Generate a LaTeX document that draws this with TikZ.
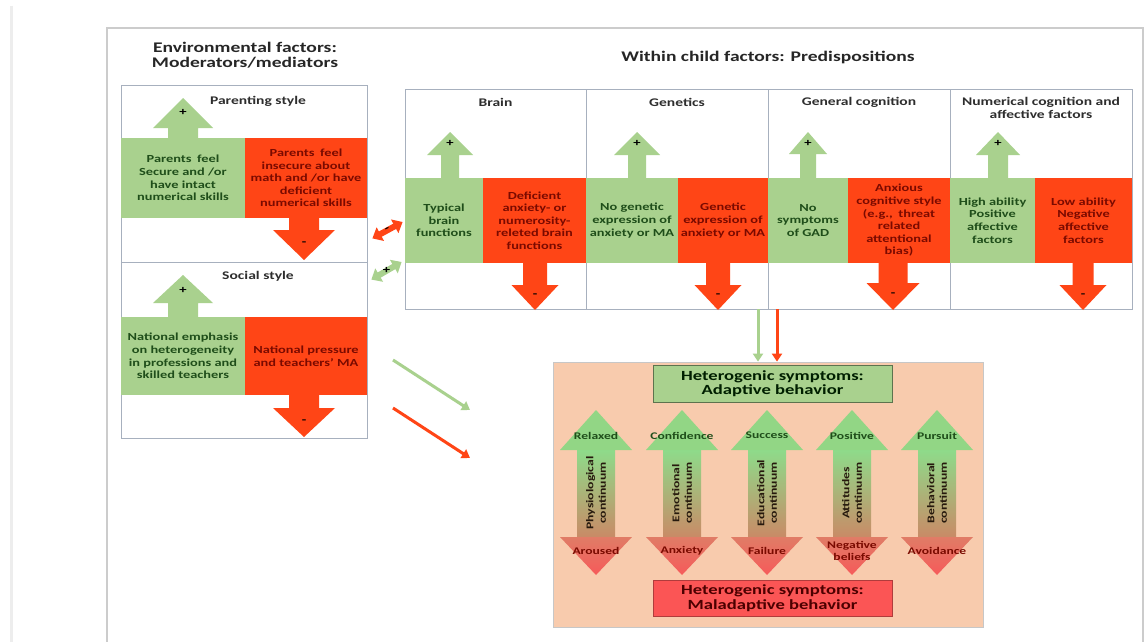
\documentclass[tikz,border=0pt]{standalone}
\usepackage{fontspec}
\setmainfont{Carlito}[FakeStretch=1.33]
\usetikzlibrary{arrows.meta,calc}

\definecolor{gfill}{HTML}{A9D18E}
\definecolor{rfill}{HTML}{FF4516}
\definecolor{gtext}{HTML}{1F4E1A}
\definecolor{rtext}{HTML}{7A0A00}
\definecolor{panelline}{HTML}{A7B0BE}
\definecolor{peach}{HTML}{F8CBAD}
\definecolor{maladapt}{HTML}{FB5555}
\definecolor{headup}{HTML}{92D685}
\definecolor{shafttop}{HTML}{8EDB8A}
\definecolor{shaftmid}{HTML}{A6BE78}
\definecolor{shaftbot}{HTML}{C98A66}
\definecolor{headdowntop}{HTML}{E07C66}
\definecolor{headdownbot}{HTML}{F65A5A}

% block arrow pointing up: style, cx, tip, head base, bottom, head half width, shaft half width
\newcommand\UpBlock[7]{\fill[#1] ({#2-#7},#5) -- ({#2-#7},#4) -- ({#2-#6},#4) -- (#2,#3)
  -- ({#2+#6},#4) -- ({#2+#7},#4) -- ({#2+#7},#5) -- cycle;}
% block arrow pointing down: style, cx, top, head base, tip, head half width, shaft half width
\newcommand\DownBlock[7]{\fill[#1] ({#2-#7},#3) -- ({#2-#7},#4) -- ({#2-#6},#4) -- (#2,#5)
  -- ({#2+#6},#4) -- ({#2+#7},#4) -- ({#2+#7},#3) -- cycle;}

% two-headed continuum arrow: cx, name, upper label, lower label, axis label
\newcommand\Continuum[5]{%
  \shade[top color=shafttop, middle color=shaftmid, bottom color=shaftbot]
    ({#1-19},450) rectangle ({#1+19},537.5);
  \fill[headup] ({#1-36},450) -- (#1,410) -- ({#1+36},450) -- cycle;
  \shade[top color=headdowntop, bottom color=headdownbot]
    ({#1-36},537) -- (#1,575) -- ({#1+36},537) -- cycle;
  \node[lbl, text=gtext] (#2up) at (#1,435.5) {#3};
  \node[lbl, text=rtext] (#2down) at (#1,551) {#4};
  \node[rot] (#2axis) at (#1,493) {#5};
}

\begin{document}
\begin{tikzpicture}[x=1pt,y=-1pt,
  txt/.style={font=\fontsize{10.8}{12.6}\selectfont\bfseries, align=center, inner sep=0pt},
  gbox/.style={txt, fill=gfill, text=gtext},
  rbox/.style={txt, fill=rfill, text=rtext},
  panel/.style={draw=panelline, line width=0.8pt, inner sep=0pt},
  hdr/.style={font=\fontsize{11.7}{13.6}\selectfont\bfseries, text=black!82, align=center, inner sep=0pt},
  ttl/.style={font=\fontsize{14.7}{14.6}\selectfont\bfseries, text=black!85, align=center, inner sep=0pt},
  sign/.style={font=\fontsize{11}{11}\selectfont\bfseries, text=black, inner sep=0pt},
  lbl/.style={font=\fontsize{10.2}{12}\selectfont\bfseries, align=center, inner sep=0pt},
  rot/.style={font=\fontsize{10.3}{12.4}\selectfont\bfseries, align=center, inner sep=0pt,
    rotate=90, text=black!80!brown},
  gconn/.style={draw=gfill, line width=3pt, -{Triangle[width=10pt,length=8pt]}},
  rconn/.style={draw=rfill, line width=3pt, -{Triangle[width=10pt,length=8pt]}},
  dblconn/.style={line width=6pt, {Triangle[width=15pt,length=9pt]}-{Triangle[width=15pt,length=9pt]}},
]
\useasboundingbox (0,0) rectangle (1148,642);
\fill[white] (0,0) rectangle (1148,642);

% page edges
\draw[line width=3pt, black!7] (11,6) -- (11,642);
\draw[line width=1.6pt, black!20] (107,642) -- (107,28) -- (1143,28) -- (1143,642);

% ---------------- environmental factors ----------------
\node[ttl] (envtitle) at (245,55) {Environmental factors:\\Moderators/mediators};

\node[panel, minimum width=246pt, minimum height=177pt] (parenting) at (244,173.5) {};
\node[panel, minimum width=246pt, minimum height=176pt] (social) at (244,350) {};

% parenting style
\node[hdr] (parhdr) at (258,101) {Parenting style};
\UpBlock{gfill}{183}{98}{128}{139}{30}{15}
\node[gbox, minimum width=124pt, minimum height=80pt] (pargreen) at (183,178)
  {Parents\enspace feel\\Secure and /or\\have intact\\numerical skills};
\node[rbox, minimum width=122pt, minimum height=80pt] (parred) at (306,178)
  {Parents\enspace feel\\insecure about\\math and /or have\\deficient\\numerical skills};
\DownBlock{rfill}{304}{217}{230}{260}{31}{15}
\node[sign] (parplus) at (183,112) {+};
\node[sign] (parminus) at (304,244) {-};

% social style
\node[hdr] (sochdr) at (258,276) {Social style};
\UpBlock{gfill}{183}{275}{303}{318}{30}{15}
\node[gbox, minimum width=124pt, minimum height=78pt] (socgreen) at (183,356)
  {National emphasis\\on heterogeneity\\in professions and\\skilled teachers};
\node[rbox, minimum width=122pt, minimum height=78pt] (socred) at (306,356)
  {National pressure\\and teachers' MA};
\DownBlock{rfill}{304}{394}{408}{437}{31}{15}
\node[sign] (socplus) at (183,290) {+};
\node[sign] (socminus) at (304,422) {-};

% ---------------- within child factors ----------------
\node[ttl] (withintitle) at (768,57) {Within child factors: Predispositions};
\node[panel, minimum width=727pt, minimum height=220pt] (within) at (768.5,199) {};
\draw[panelline, line width=0.8pt] (586,89) -- (586,309) (768,89) -- (768,309) (950,89) -- (950,309);

\node[hdr] (brainhdr) at (495.5,102) {Brain};
\node[hdr] (genehdr) at (677,102) {Genetics};
\node[hdr] (coghdr) at (859,102) {General cognition};
\node[hdr] (numhdr) at (1041,108) {Numerical cognition and\\affective factors};

% brain
\UpBlock{gfill}{450}{132}{155}{179}{23}{9}
\node[gbox, minimum width=78pt, minimum height=85pt] (braingreen) at (444,220.5)
  {Typical\\brain\\functions};
\node[rbox, minimum width=103pt, minimum height=85pt] (brainred) at (534.5,220.5)
  {Deficient\\anxiety- or\\numerosity-\\releted brain\\functions};
\DownBlock{rfill}{535}{262}{285}{310}{23.5}{12}
\node[sign] (brainplus) at (450,143) {+};
\node[sign] (brainminus) at (535,296) {-};

% genetics
\UpBlock{gfill}{637}{132}{155}{179}{23}{9}
\node[gbox, minimum width=92pt, minimum height=85pt] (genegreen) at (632,220.5)
  {No genetic\\expression of\\anxiety or MA};
\node[rbox, minimum width=90pt, minimum height=85pt] (genered) at (723,220.5)
  {Genetic\\expression of\\anxiety or MA};
\DownBlock{rfill}{718}{262}{285}{310}{23.5}{12}
\node[sign] (geneplus) at (637,143) {+};
\node[sign] (geneminus) at (718,296) {-};

% general cognition
\UpBlock{gfill}{808}{132}{154}{179}{19}{8}
\node[gbox, minimum width=80pt, minimum height=85pt] (coggreen) at (808,220.5)
  {No\\symptoms\\of GAD};
\node[rbox, minimum width=102pt, minimum height=85pt] (cogred) at (899,220.5)
  {Anxious\\cognitive style\\(e.g.,\enspace threat\\related\\attentional\\bias)};
\DownBlock{rfill}{893}{262}{283}{310}{26.5}{14.5}
\node[sign] (cogplus) at (808,143) {+};
\node[sign] (cogminus) at (893,295) {-};

% numerical cognition and affective factors
\UpBlock{gfill}{998}{132}{155}{179}{22}{10}
\node[gbox, minimum width=85pt, minimum height=85pt] (numgreen) at (992.5,220.5)
  {High ability\\Positive\\affective\\factors};
\node[rbox, minimum width=97pt, minimum height=85pt] (numred) at (1083.5,220.5)
  {Low ability\\Negative\\affective\\factors};
\DownBlock{rfill}{1083}{262}{285}{310}{23.5}{10.5}
\node[sign] (numplus) at (998,143) {+};
\node[sign] (numminus) at (1083,296) {-};

% links between the environmental and within-child panels
\draw[dblconn, draw=rfill, fill=rfill] ($(parenting.south east)+(5,-24)$) -- ($(within.west)+(-2,23)$)
  node[sign, midway, rotate=27] (linkminus) {-};
\draw[dblconn, draw=gfill, fill=gfill] ($(social.north east)+(4,18)$) -- ($(within.west)+(-3,63)$)
  node[sign, midway] (linkplus) {+};

% ---------------- heterogenic symptoms ----------------
\node[draw=black!22, line width=0.8pt, fill=peach, minimum width=430pt, minimum height=265pt,
  inner sep=0pt] (symptoms) at (768,494.5) {};

\coordinate (vg) at (758,0);
\coordinate (vr) at (777,0);
\draw[gconn] (within.south -| vg) -- (symptoms.north -| vg);
\draw[rconn] (within.south -| vr) -- (symptoms.north -| vr);

\coordinate (gfrom) at (393,360);
\coordinate (gto) at (470,410);
\coordinate (rfrom) at (393,408);
\coordinate (rto) at (470,458);
\draw[gconn] (gfrom) -- (gto);
\draw[rconn] (rfrom) -- (rto);

\node[draw=black!45!gfill, line width=0.8pt, fill=gfill, minimum width=239pt, minimum height=37pt,
  inner sep=0pt, font=\fontsize{14}{14.4}\selectfont\bfseries, text=black!80!green!60!black, align=center]
  (adaptive) at (772.5,383.5) {Heterogenic symptoms:\\Adaptive behavior};
\node[draw=black!30!maladapt, line width=0.8pt, fill=maladapt, minimum width=239pt, minimum height=36pt,
  inner sep=0pt, font=\fontsize{14}{14.4}\selectfont\bfseries, text=black!70!red, align=center]
  (maladaptive) at (772.5,598) {Heterogenic symptoms:\\Maladaptive behavior};

\Continuum{596}{phys}{Relaxed}{Aroused}{Physiological\\continuum}
\Continuum{682}{emo}{Confidence}{Anxiety}{Emotional\\continuum}
\Continuum{767}{edu}{Success}{Failure}{Educational\\continuum}
\Continuum{852}{att}{Positive}{Negative\\beliefs}{Attitudes\\continuum}
\Continuum{937}{beh}{Pursuit}{Avoidance}{Behavioral\\continuum}

\end{tikzpicture}
\end{document}
